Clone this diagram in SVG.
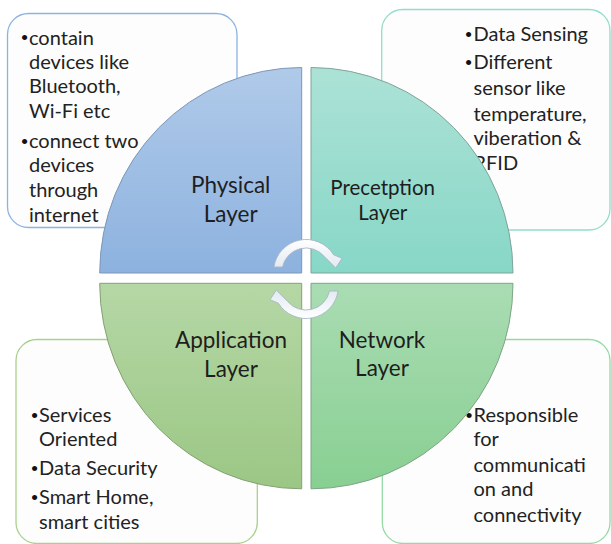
<svg xmlns="http://www.w3.org/2000/svg" width="611" height="544" viewBox="0 0 611 544">
<defs>
<linearGradient id="gPhys" x1="0" y1="0" x2="0" y2="1"><stop offset="0" stop-color="#b0cae9"/><stop offset="1" stop-color="#8db2df"/></linearGradient>
<linearGradient id="gPerc" x1="0" y1="0" x2="0" y2="1"><stop offset="0" stop-color="#ace2d6"/><stop offset="1" stop-color="#87d7c7"/></linearGradient>
<linearGradient id="gApp" x1="0" y1="0" x2="0" y2="1"><stop offset="0" stop-color="#b5d7a5"/><stop offset="1" stop-color="#9bc785"/></linearGradient>
<linearGradient id="gNet" x1="0" y1="0" x2="0" y2="1"><stop offset="0" stop-color="#aadcb3"/><stop offset="1" stop-color="#88cf92"/></linearGradient>
<linearGradient id="gArr" x1="0" y1="0" x2="0" y2="1"><stop offset="0" stop-color="#ffffff"/><stop offset="1" stop-color="#e2e9f1"/></linearGradient>
</defs>
<style>
.box{fill:#fdfdfd;stroke-width:1.3}
.t{font-family:Lato,"Liberation Sans",sans-serif;font-size:20px;fill:#222222}
.b{font-family:"Liberation Sans",sans-serif;font-size:19px;fill:#111111;text-anchor:middle}
.lbl{font-family:Lato,"Liberation Sans",sans-serif;font-size:22.5px;fill:#1e1e1e;text-anchor:middle}
.q{stroke-width:1}
.arr{fill:url(#gArr);stroke:#a9b7c7;stroke-width:0.9}
</style>
<rect width="611" height="544" fill="#ffffff"/>

<g id="box-physical">
<rect class="box" x="7.5" y="13.5" width="229.5" height="214" rx="21" stroke="#8db3e2"/>
<text class="b" x="24.5" y="44">•</text><text class="t" x="29" y="44.5">contain</text>
<text class="t" x="29" y="68.5">devices like</text>
<text class="t" x="29" y="93">Bluetooth,</text>
<text class="t" x="29" y="118">Wi-Fi etc</text>
<text class="b" x="24.5" y="147.5">•</text><text class="t" x="29" y="147.5">connect two</text>
<text class="t" x="29" y="172">devices</text>
<text class="t" x="29" y="196.5">through</text>
<text class="t" x="29" y="221.5">internet</text>
</g>

<g id="box-perception">
<rect class="box" x="381.7" y="9.5" width="228.3" height="220.5" rx="21" stroke="#93dccb"/>
<text class="b" x="468.5" y="41">•</text><text class="t" x="473.5" y="41">Data Sensing</text>
<text class="b" x="468.5" y="69.3">•</text><text class="t" x="473.5" y="69.3">Different</text>
<text class="t" x="473.5" y="95">sensor like</text>
<text class="t" x="473.5" y="120.7">temperature,</text>
<text class="t" x="473.5" y="145">viberation &amp;</text>
<text class="t" x="473.5" y="170">RFID</text>
</g>

<g id="box-application">
<rect class="box" x="16" y="339.5" width="241.3" height="204" rx="21" stroke="#a9d18e"/>
<text class="b" x="34.5" y="421.7">•</text><text class="t" x="39" y="421.7">Services</text>
<text class="t" x="39" y="446">Oriented</text>
<text class="b" x="34.5" y="475">•</text><text class="t" x="39" y="475">Data Security</text>
<text class="b" x="34.5" y="504">•</text><text class="t" x="39" y="504">Smart Home,</text>
<text class="t" x="39" y="529.3">smart cities</text>
</g>

<g id="box-network">
<rect class="box" x="382.3" y="339.5" width="227.7" height="204" rx="21" stroke="#96d9a5"/>
<text class="b" x="469" y="421.7">•</text><text class="t" x="473.5" y="421.7">Responsible</text>
<text class="t" x="473.5" y="446">for</text>
<text class="t" x="473.5" y="471.7">communicati</text>
<text class="t" x="473.5" y="496">on and</text>
<text class="t" x="473.5" y="521.7">connectivity</text>
</g>

<g id="physical-layer">
<path class="q" d="M301.7,273 H99.7 A202,205.5 0 0 1 301.7,67.5 Z" fill="url(#gPhys)" stroke="#7d97b8"/>
<text class="lbl" x="230.7" y="193">Physical</text>
<text class="lbl" x="230.7" y="222">Layer</text>
</g>

<g id="perception-layer">
<path class="q" d="M311,273 V67.5 A202,205.5 0 0 1 513,273 Z" fill="url(#gPerc)" stroke="#7fa39b"/>
<text class="lbl" x="382.7" y="195" style="font-size:20.5px">Precetption</text>
<text class="lbl" x="382.7" y="220" style="font-size:20.5px">Layer</text>
</g>

<g id="application-layer">
<path class="q" d="M301.7,283.3 V488.8 A202,205.5 0 0 1 99.7,283.3 Z" fill="url(#gApp)" stroke="#86a076"/>
<text class="lbl" x="231" y="348.3">Application</text>
<text class="lbl" x="231" y="376.7">Layer</text>
</g>

<g id="network-layer">
<path class="q" d="M311,283.3 H513 A202,205.5 0 0 1 311,488.8 Z" fill="url(#gNet)" stroke="#7ea585"/>
<text class="lbl" x="382" y="348">Network</text>
<text class="lbl" x="382" y="376">Layer</text>
</g>

<g id="connectors">
<path class="arr" d="M273.9,267 A32.5,32.5 0 0 1 333.6,254.8 L342,258.3 L335.7,268 L324.4,256.6 A24,24 0 0 0 282.5,267 Z"/>
<path class="arr" transform="rotate(180 306 279)" d="M273.9,267 A32.5,32.5 0 0 1 333.6,254.8 L342,258.3 L335.7,268 L324.4,256.6 A24,24 0 0 0 282.5,267 Z"/>
</g>
</svg>
